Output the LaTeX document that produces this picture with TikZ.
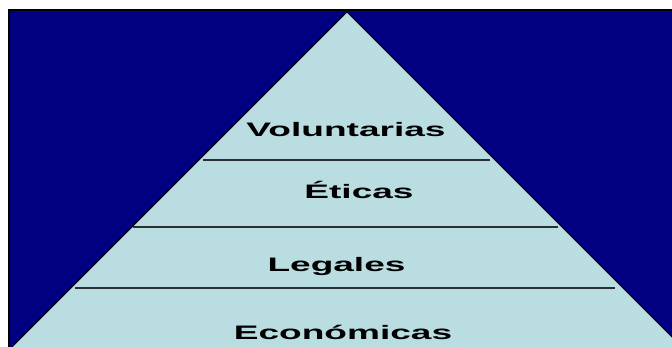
\documentclass[tikz,border=0pt]{standalone}
\usepackage{fontspec}
\setmainfont{Liberation Sans}
\definecolor{navy}{RGB}{0,0,128}
\definecolor{pyrfill}{RGB}{185,221,224}
\definecolor{rulegray}{RGB}{40,48,52}

\begin{document}
\begin{tikzpicture}
    [x=1pt,y=-1pt,every node/.style={font=\fontsize{19.5}{20}\selectfont\bfseries, xscale=1.9, anchor=base, inner sep=0pt}]
  \useasboundingbox (0,0) rectangle (672,347);
  \clip (0,0) rectangle (672,347);
  \fill[white] (0,0) rectangle (672,347);
  \filldraw[fill=navy, draw=black, line width=2pt] (9,10) rectangle (690,360);

  \coordinate (apex) at (347,12);
  \coordinate (bl) at (-3,362);
  \coordinate (br) at (697,362);
  \filldraw[fill=pyrfill, draw=black, line width=1pt] (apex) -- (bl) -- (br) -- cycle;

  \foreach \y/\xa/\xb in {160/203/490, 227/133/558, 288/75/615}
    \draw[rulegray, line width=1.2pt] (\xa,\y) -- (\xb,\y);

  \node (vol) at (346,137) {Voluntarias};
  \node (eti) at (359,199) {Éticas};
  \node (leg) at (336.5,272) {Legales};
  \node (eco) at (343,340) {Económicas};
\end{tikzpicture}
\end{document}
